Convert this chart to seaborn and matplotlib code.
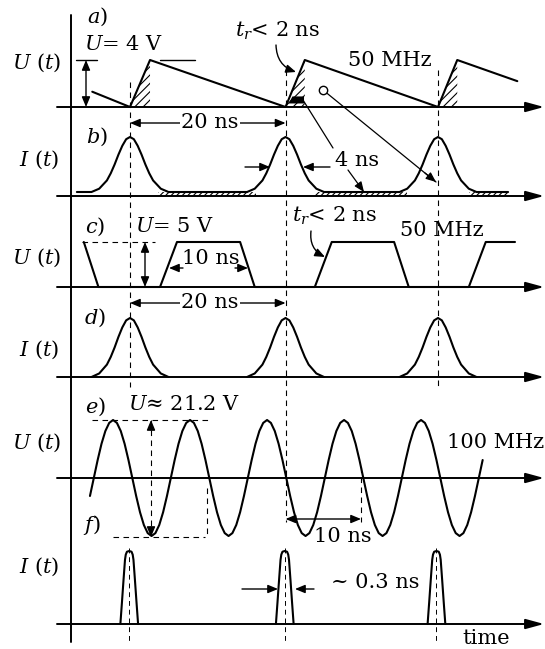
import numpy as np
import matplotlib.pyplot as plt
import seaborn as sns

# ---------------- data (time in ns) ----------------
# a) sawtooth voltage, vertices (V)
a_t = [-4.9, 0.0, 2.6, 20.2, 22.7, 40.0, 42.5, 50.3]
a_u = [1.3, 0.0, 4.0, 0.0, 4.0, 0.0, 4.0, 2.2]
a_rise_start = [0.0, 20.2, 40.0]
a_rise_end = [2.6, 22.7, 42.5]

# b), d) current pulses (relative level)
pulse_centres = [0.0, 20.2, 40.0]
gauss_dt = [-5, -4, -3, -2.5, -2, -1.5, -1, -0.5, 0, 0.5, 1, 1.5, 2, 2.5, 3, 4, 5]
gauss_lv = [0, 0.06, 0.21, 0.34, 0.5, 0.68, 0.84, 0.96, 1, 0.96, 0.84, 0.68, 0.5, 0.34, 0.21, 0.06, 0]
b_start, b_end = -6.9, 49.1
b_leak_start = [3.7, 24.0, 44.0]
b_leak_end = [16.4, 36.0, 49.1]

# c) trapezoid voltage
c_t = [-6.0, -4.1, 3.9, 6.1, 14.3, 16.2, 24.0, 26.2, 34.3, 36.2, 44.0, 46.2, 50.0]
c_u = [1, 0, 0, 1, 1, 0, 0, 1, 1, 0, 0, 1, 1]

# e) 100 MHz wave: peak times and one half wave (peak -> trough, every 0.5 ns)
e_peaks = [-2.2, 7.8, 17.8, 27.8, 37.8]
e_half = [1.0, 0.95, 0.81, 0.59, 0.31, 0.0, -0.31, -0.59, -0.81, -0.95, -1.0]
e_step = 0.5

# f) narrow current pulses
f_centres = [-0.1, 20.1, 39.8]
f_dt = [-1.15, -0.95, -0.75, -0.55, -0.45, -0.3, -0.15, 0, 0.15, 0.3, 0.45, 0.55, 0.75, 0.95, 1.15]
f_lv = [0, 0.29, 0.59, 0.88, 0.95, 0.99, 0.995, 1, 0.995, 0.99, 0.95, 0.88, 0.59, 0.29, 0]

# ---------------- layout (pixels) ----------------
PX_NS, T0 = 7.7, 130
def px2t(px):
    return (px - T0) / PX_NS

base = {'a': 107, 'b': 196, 'c': 287, 'd': 377, 'e': 478, 'f': 624}
FS = 15

sns.set_style('white')
plt.rcParams['font.family'] = ['DejaVu Serif', 'DejaVu Sans']
plt.rcParams['mathtext.fontset'] = 'dejavuserif'
plt.rcParams['hatch.linewidth'] = 0.8

fig = plt.figure(figsize=(5.45, 6.49), dpi=100)
ax = fig.add_axes([0, 0, 1, 1])
ax.set_xlim(px2t(0), px2t(545))
ax.set_ylim(649, 0)
ax.axis('off')

K = 'black'
LW = 1.5

def curve(t, y):
    sns.lineplot(x=np.asarray(t, float), y=np.asarray(y, float), ax=ax, color=K,
                 lw=LW, sort=False, estimator=None)

def arrow(x0, y0, x1, y1, lw=1.0, hl=0.6, hw=0.25, rad=0.0):
    ax.annotate('', xy=(x1, y1), xytext=(x0, y0),
                arrowprops=dict(arrowstyle=f'-|>,head_length={hl},head_width={hw}',
                                color=K, lw=lw, shrinkA=0, shrinkB=0, mutation_scale=10,
                                connectionstyle=f'arc3,rad={rad}'))

def darrow(x0, y0, x1, y1, lw=1.0):
    ax.annotate('', xy=(x1, y1), xytext=(x0, y0),
                arrowprops=dict(arrowstyle='<|-|>,head_length=0.6,head_width=0.25',
                                color=K, lw=lw, shrinkA=0, shrinkB=0, mutation_scale=10))

def dashed(x, y, lw=0.8):
    ax.plot(x, y, color=K, lw=lw, dashes=(5, 4))

def label(x, y, s, ha='center', bg=False):
    kw = {}
    if bg:
        kw['bbox'] = dict(facecolor='white', edgecolor='none', pad=1)
    ax.text(px2t(x), y, s, ha=ha, va='center', fontsize=FS, color=K, **kw)

# axes
ax.plot([px2t(71), px2t(71)], [15, 642], color=K, lw=1.4)
for b in base.values():
    arrow(px2t(57), b, px2t(544), b, lw=1.4, hl=1.1, hw=0.3)

# dashed time markers
dashed([0, 0], [82, 387])
dashed([20.2, 20.2], [70, 522])
dashed([40.0, 40.0], [70, 390])
for fc in f_centres:
    dashed([fc, fc], [548, 642], lw=0.7)

# ---- a) ----
ya = lambda u: base['a'] - np.asarray(u) * 11.75
curve(a_t, ya(a_u))
for t0, t1 in zip(a_rise_start, a_rise_end):
    ax.fill([t0, t1, t1], ya([0, 4, 0]), facecolor='none', edgecolor=K, hatch='////', lw=0)
ax.fill([20.6, 21.1, 22.6, 22.6], ya([0.3, 0.9, 0.9, 0.3]), color=K, lw=0)
ax.plot([px2t(76), px2t(97)], [60, 60], color=K, lw=1.0)
ax.plot([px2t(160), px2t(195)], [60, 60], color=K, lw=1.0)
darrow(px2t(86), 60, px2t(86), 107)
label(97, 17, r'$a)$')
label(124, 45, r'$U$= 4 V')
label(37, 63, r'$U\ (t)$')
label(278, 31, r'$t_r$< 2 ns')
arrow(px2t(276), 45, px2t(296), 72, rad=0.35)
label(390, 60, '50 MHz')
# pointer lines from a) to b)
ax.plot([px2t(303), px2t(333)], [100, 148], color=K, lw=0.9)
arrow(px2t(348), 170, px2t(364), 192, lw=0.9)
ax.plot([px2t(323), px2t(436)], [90, 182], color=K, lw=0.9)
arrow(px2t(425), 173, px2t(436), 182, lw=0.9)
ax.plot(px2t(323), 90, 'o', ms=6, mfc='white', mec=K, mew=1.0)

# 20 ns markers
for yy in (123, 303):
    darrow(0, yy, 20.2, yy)
    label(210, yy, '20 ns', bg=True)

# ---- b) ----
yb = lambda v: base['b'] - 4 - np.asarray(v) * 55
bt = [b_start] + [c + d for c in pulse_centres for d in gauss_dt] + [b_end]
bv = [0] + gauss_lv * len(pulse_centres) + [0]
for t0, t1 in zip(b_leak_start, b_leak_end):
    ax.fill([t0, t1, t1, t0], [base['b'] - 4, base['b'] - 4, base['b'], base['b']],
            facecolor='none', edgecolor=K, hatch='//////', lw=0)
curve(bt, yb(bv))
label(97, 137, r'$b)$')
label(39, 160, r'$I\ (t)$')
label(357, 161, '4 ns')
arrow(px2t(245), 167, px2t(270), 167)
arrow(px2t(330), 167, px2t(303), 167)

# ---- c) ----
yc = lambda v: base['c'] - np.asarray(v) * 45
curve(c_t, yc(c_u))
dashed([px2t(82), px2t(155)], [242, 242])
darrow(px2t(145), 242, px2t(145), 287)
label(95, 227, r'$c)$')
label(175, 227, r'$U$= 5 V')
label(37, 258, r'$U\ (t)$')
label(211, 258, '10 ns')
arrow(px2t(183), 268, px2t(169), 268)
arrow(px2t(235), 268, px2t(248), 268)
label(335, 216, r'$t_r$< 2 ns')
arrow(px2t(311), 231, px2t(325), 257, rad=0.35)
label(442, 230, '50 MHz')

# ---- d) ----
yd = lambda v: base['d'] - np.asarray(v) * 59
for c in pulse_centres:
    curve([c + d for d in gauss_dt], yd(gauss_lv))
label(95, 318, r'$d)$')
label(39, 350, r'$I\ (t)$')

# ---- e) ----
fall = list(e_half)
rise = fall[::-1]
t_e = [e_peaks[0] - 5 + k * e_step for k in range(4, 11)]
v_e = rise[4:11]
for i, p in enumerate(e_peaks):
    t_e += [p + k * e_step for k in range(1, 11)]
    v_e += fall[1:]
    n = 11 if i < len(e_peaks) - 1 else 7
    t_e += [p + 5 + k * e_step for k in range(1, n)]
    v_e += rise[1:n]
ye = lambda v: base['e'] - np.asarray(v) * 58
curve(t_e, ye(v_e))
dashed([px2t(92), px2t(208)], [420, 420])
dashed([px2t(113), px2t(205)], [537, 537])
dashed([px2t(207), px2t(207)], [488, 537])
dashed([px2t(151), px2t(151)], [420, 537])
arrow(px2t(151), 430, px2t(151), 420)
arrow(px2t(151), 527, px2t(151), 537)
dashed([px2t(361), px2t(361)], [467, 522])
darrow(20.2, 519, px2t(361), 519)
label(95, 407, r'$e)$')
label(184, 405, r'$U$≈ 21.2 V')
label(37, 443, r'$U\ (t)$')
label(544, 443, '100 MHz', ha='right')
label(343, 536, '10 ns')

# ---- f) ----
yf = lambda v: base['f'] - np.asarray(v) * 73
for c in f_centres:
    curve([c + d for d in f_dt], yf(f_lv))
label(92, 525, r'$f)$')
label(39, 567, r'$I\ (t)$')
arrow(px2t(242), 589, px2t(278), 589)
arrow(px2t(314), 589, px2t(295), 589)
label(375, 583, '~ 0.3 ns')
label(486, 638, 'time')

fig.savefig('out.png', dpi=100)
